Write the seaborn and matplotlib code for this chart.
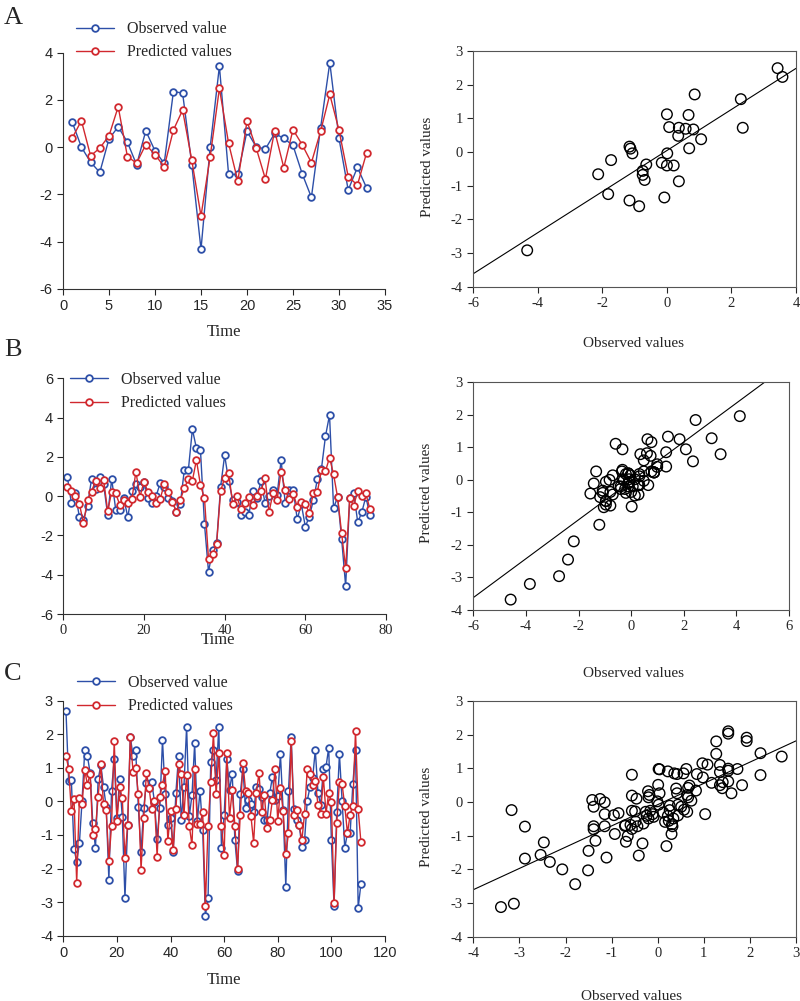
import numpy as np
import matplotlib
matplotlib.use("Agg")
import matplotlib.pyplot as plt
import seaborn as sns

# ---- panel A (33 time steps) ----
obs_a = [1.06, 0.0, -0.64, -1.07, 0.35, 0.86, 0.21, -0.75, 0.69, -0.16,
         -0.69, 2.35, 2.29, -0.75, -4.33, 0.0, 3.43, -1.16, -1.16, 0.67,
         0.01, -0.08, 0.58, 0.37, 0.07, -1.13, -2.13, 0.82, 3.58, 0.37,
         -1.82, -0.86, -1.73]
pred_a = [0.38, 1.12, -0.37, -0.04, 0.48, 1.71, -0.40, -0.68, 0.11, -0.32,
          -0.83, 0.72, 1.57, -0.56, -2.92, -0.40, 2.49, 0.16, -1.44, 1.10,
          -0.04, -1.35, 0.69, -0.87, 0.74, 0.10, -0.66, 0.67, 2.23, 0.72,
          -1.25, -1.61, -0.24]

# ---- panel B (76 time steps) ----
obs_b = [0.99, -0.35, 0.14, -1.08, -1.21, -0.48, 0.87, 0.35, 0.99, 0.6,
         -0.96, 0.87, -0.7, -0.7, -0.11, -1.08, 0.26, 0.62, 0.48, 0.74,
         -0.11, -0.33, 0.0, 0.65, 0.48, -0.11, -0.23, -0.79, -0.4, 1.33,
         1.33, 3.4, 2.45, 2.35, -1.42, -3.85, -2.74, -2.4, 0.48, 2.08,
         0.77, -0.2, -0.28, -0.96, -0.79, -0.96, 0.28, -0.08, 0.77, -0.33,
         0.02, 0.31, 0.06, 1.84, -0.33, 0.31, 0.31, -1.18, -0.4, -1.55,
         -1.04, -0.2, 0.87, 1.4, 3.06, 4.13, -0.59, -0.06, -2.18, -4.58,
         -0.11, 0.14, -1.33, -0.82, -0.03, -0.96]
pred_b = [0.48, 0.26, 0.02, -0.4, -1.38, -0.2, 0.23, 0.79, 0.4, 0.82,
          -0.76, 0.23, 0.14, -0.45, -0.2, -0.33, -0.16, 1.25, -0.03, 0.74,
          0.2, 0.02, -0.37, -0.16, 0.6, 0.2, -0.28, -0.79, -0.2, 0.41,
          0.85, 0.79, 1.84, 0.57, -0.11, -3.2, -2.96, -2.45, 0.26, 0.94,
          1.16, -0.4, 0.0, -0.65, -0.37, -0.06, -0.45, 0.02, 0.26, 0.94,
          -0.82, 0.18, -0.2, 1.25, 0.31, -0.16, 0.11, -0.53, -0.28, -0.42,
          -0.84, 0.18, 0.23, 1.33, 1.28, 1.96, 1.11, -0.06, -1.89, -3.68,
          -0.11, -0.48, 0.26, 0.0, 0.14, -0.65]

# ---- panel C (111 time steps) ----
obs_c = [2.69, 0.62, 0.64, -1.42, -1.79, -1.25, 0.02, 1.53, 1.35, 0.85,
         -0.65, -1.39, 0.66, 1.08, 0.44, -0.16, -2.34, 0.32, 1.27, -0.48,
         0.66, -0.46, -2.88, -0.7, 1.93, 1.35, 1.53, -0.18, -1.51, -0.2,
         0.56, 0.4, 0.57, -0.01, -1.11, -0.2, 1.83, 0.22, -0.69, -0.49,
         -1.5, 0.26, 1.35, -0.56, 0.44, 2.23, -0.44, 0.19, 1.73, -0.59,
         0.31, -0.85, -3.4, -2.88, 1.17, 1.53, 0.64, 2.23, -1.39, -0.41,
         1.27, 0.34, 0.83, -1.15, -2.07, 0.22, 0.97, -0.21, 0.04, -0.09,
         -0.33, 0.42, 0.36, 0.12, -0.56, -0.56, 0.24, 0.73, 0.04, 0.16,
         1.4, -0.26, -2.54, 0.3, 1.93, -0.24, -0.56, -0.71, -1.35, -1.15,
         0.02, 0.42, 0.69, 1.53, 0.26, -0.11, 0.98, 1.03, 1.6, -1.15,
         -3.12, -0.31, 1.41, 0.01, -1.39, -0.93, -0.95, 0.51, 1.53, -3.17,
         -2.47]
pred_c = [1.35, 0.98, -0.29, 0.06, -2.44, 0.09, -0.08, 0.93, 0.5, 0.83,
          -1.01, -0.81, 0.14, 1.11, -0.08, -0.26, -1.78, -0.72, 1.8, -0.58,
          0.42, 0.1, -1.68, -0.69, 1.91, 0.89, 0.99, 0.21, -2.03, -0.49,
          0.85, 0.4, -0.23, 0.02, -1.65, 0.14, 0.5, 0.91, -1.18, -0.28,
          -1.45, -0.24, 1.1, 0.81, -0.4, 0.8, -0.72, -1.31, 0.98, -0.68,
          -0.66, -0.33, -3.12, -0.73, 0.57, 2.03, 0.21, 1.45, -0.72, -1.59,
          1.43, -0.49, 0.34, -0.72, -2.0, -0.41, 1.15, 0.32, 0.26, -0.44,
          -1.23, 0.26, 0.85, -0.31, 0.19, -0.8, -0.56, 0.04, 0.97, -0.59,
          0.41, -0.29, -1.57, -0.95, 1.81, -0.41, -0.26, -0.71, -1.15, -0.36,
          0.98, 0.83, 0.49, 0.61, -0.11, -0.36, 0.73, -0.36, 0.26, -0.01,
          -3.02, -0.64, 0.59, 0.51, -0.14, -0.95, -0.39, -0.14, 2.1, -0.24,
          -1.2]

sns.set_style("ticks")
plt.rcParams['font.family'] = ['Liberation Serif', 'DejaVu Serif']
plt.rcParams['xtick.major.size'] = 4
plt.rcParams['ytick.major.size'] = 4
plt.rcParams['axes.edgecolor'] = '#333333'
plt.rcParams['axes.unicode_minus'] = False

BLUE = '#2d4fa8'
RED = '#d1282e'
W, H = 800, 1001

fig = plt.figure(figsize=(W / 100, H / 100), dpi=100)


def rect(x0, y0, x1, y1):
    # pixel box -> figure fraction
    return [x0 / W, 1 - y1 / H, (x1 - x0) / W, (y1 - y0) / H]


def series_panel(box, obs, pred, xlim, xstep, ylim, ystep, xfont, yfont,
                 leg_xy, time_xy):
    ax = fig.add_axes(rect(*box))
    t = np.arange(1, len(obs) + 1)
    for vals, col, lab in [(obs, BLUE, 'Observed value'), (pred, RED, 'Predicted values')]:
        sns.lineplot(x=t, y=vals, ax=ax, color=col, linewidth=1.0, marker='o',
                     markersize=4.8, markerfacecolor='white',
                     markeredgecolor=col, markeredgewidth=1.3, label=lab)
    ax.set_xlim(*xlim)
    ax.set_ylim(*ylim)
    ax.set_xticks(np.arange(xlim[0], xlim[1] + 0.01, xstep))
    ax.set_yticks(np.arange(ylim[0], ylim[1] + 0.01, ystep))
    ax.tick_params(axis='x', labelsize=10.5, labelfontfamily=xfont)
    ax.tick_params(axis='y', labelsize=10.5, labelfontfamily=yfont)
    sns.despine(ax=ax)
    ax.set_xlabel('Time', fontsize=12)
    ax.xaxis.set_label_coords(*time_xy)
    ax.set_ylabel('')
    ax.legend(loc='center left', bbox_to_anchor=leg_xy, frameon=False,
              borderpad=0, borderaxespad=0, handlelength=2.4,
              handletextpad=0.8, labelspacing=0.45, fontsize=11.5,
              numpoints=1)
    return ax


def scatter_panel(box, obs, pred, xlim, xstep, ylim, xl_xy, yl_xy):
    ax = fig.add_axes(rect(*box))
    ax.set_xlim(*xlim)
    ax.set_ylim(*ylim)
    sns.scatterplot(x=obs, y=pred, ax=ax, marker='o', s=58,
                    facecolor='none', edgecolor='black', linewidth=1.0)
    sns.regplot(x=obs, y=pred, ax=ax, scatter=False, ci=None, truncate=False,
                color='black', line_kws={'linewidth': 0.8})
    ax.set_xlim(*xlim)
    ax.set_ylim(*ylim)
    ax.set_xticks(np.arange(xlim[0], xlim[1] + 0.01, xstep))
    ax.set_yticks(np.arange(ylim[0], ylim[1] + 0.01, 1))
    ax.tick_params(labelsize=10.5)
    for s in ax.spines.values():
        s.set_color('#555555')
    ax.set_xlabel('Observed values', fontsize=11)
    ax.set_ylabel('Predicted values', fontsize=11)
    ax.xaxis.set_label_coords(*xl_xy)
    ax.yaxis.set_label_coords(*yl_xy)
    return ax


# A
series_panel((63, 52.7, 385, 288.7), obs_a, pred_a, (0, 35), 5, (-6, 4), 2,
             'Liberation Sans', 'Liberation Sans', (0.04, 1.05), (0.5, -0.15))
scatter_panel((473.3, 51, 796, 286.7), obs_a, pred_a, (-6, 4), 2, (-4, 3),
              (0.495, -0.215), (-0.122, 0.508))

# B
series_panel((63.3, 378.3, 386, 614), obs_b, pred_b, (0, 80), 20, (-6, 6), 2,
             'Liberation Serif', 'Liberation Sans', (0.02, 0.944), (0.479, -0.075))
scatter_panel((473.3, 382.3, 789, 610), obs_b, pred_b, (-6, 6), 2, (-4, 3),
              (0.506, -0.25), (-0.128, 0.514))

# C
series_panel((63.3, 700.7, 385, 935.7), obs_c, pred_c, (0, 120), 20, (-4, 3), 1,
             'Liberation Sans', 'Liberation Sans', (0.043, 1.026), (0.5, -0.155))
scatter_panel((473.3, 701, 796, 936.7), obs_c, pred_c, (-4, 3), 1, (-4, 3),
              (0.49, -0.226), (-0.125, 0.508))

for letter, y in [('A', 7), ('B', 339), ('C', 663)]:
    fig.text(4 / W, 1 - y / H, letter, fontsize=19, va='top', ha='left')

fig.savefig('out.png', dpi=100)
